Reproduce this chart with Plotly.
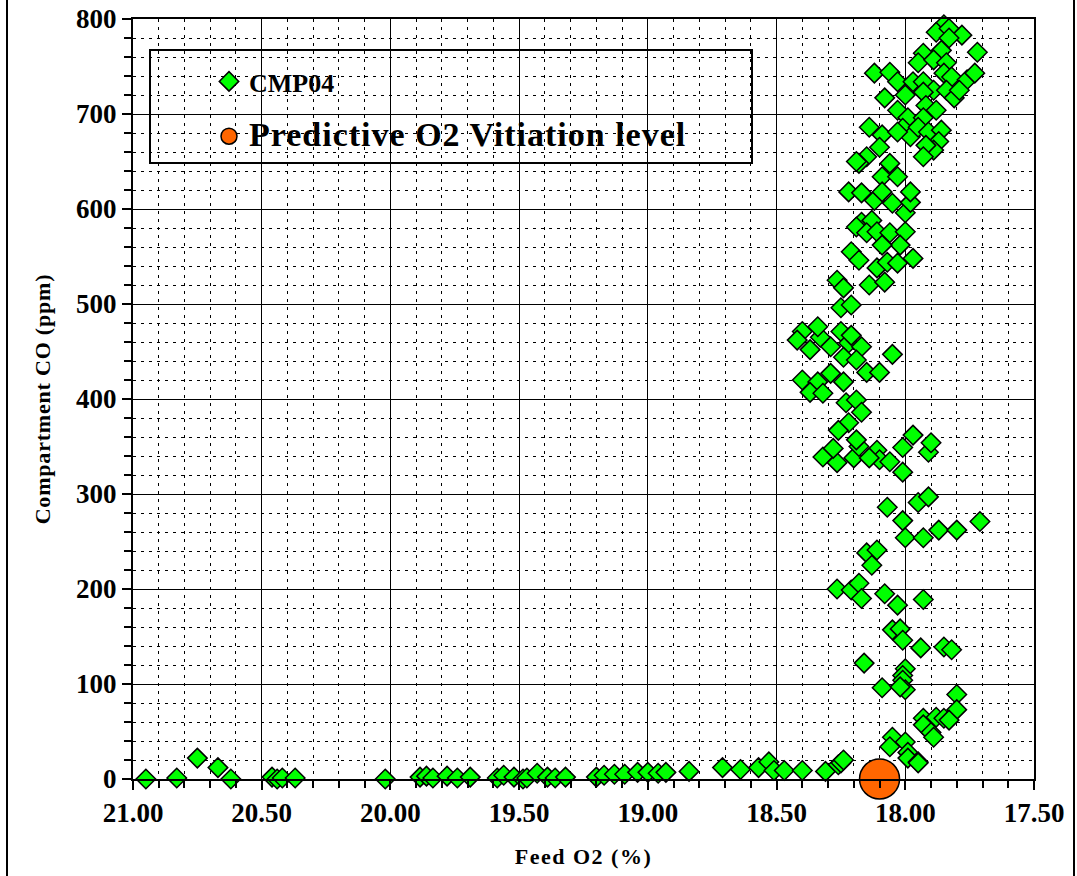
import plotly.graph_objects as go

# ---- data ----
feed_o2 = [
    20.95, 20.83, 20.75, 20.67, 20.62, 20.46, 20.44, 20.42, 20.37, 20.02,
    19.885, 19.86, 19.835, 19.78, 19.74, 19.69, 19.585, 19.56, 19.52, 19.485,
    19.47, 19.43, 19.39, 19.36, 19.32, 19.20, 19.17, 19.13, 19.09, 19.04,
    19.00, 18.96, 18.93, 18.84, 18.71, 18.64, 18.57, 18.53, 18.51, 18.47,
    18.40, 18.31, 18.26, 18.25, 18.24,
    # 0-210 ppm group
    18.265, 18.21, 18.18, 18.17, 18.08, 18.03, 17.93, 18.05, 18.02, 18.01,
    17.94, 17.85, 17.82, 18.16, 18.00, 18.01, 18.01, 18.09, 18.00, 18.02,
    17.80, 17.80, 17.93, 17.93, 17.88, 17.85, 17.90, 17.89, 17.83, 18.05,
    18.00, 18.06, 17.99, 17.99, 17.95, 17.95,
    # 210-400 ppm group
    18.23, 18.19, 18.17, 18.22, 18.26, 18.32, 18.265, 18.28, 18.20, 18.18,
    18.19, 18.11, 18.10, 18.06, 18.14, 18.01, 18.01, 17.97, 17.91, 17.90,
    18.07, 17.95, 17.91, 18.01, 18.00, 17.93, 17.87, 17.80, 17.71, 18.15,
    18.11, 18.13,
    # 400-600 ppm group
    18.17, 18.13, 18.19, 18.15, 18.11, 18.06, 18.00, 18.02, 18.09, 18.21,
    18.18, 18.11, 18.07, 18.03, 17.97, 18.14, 18.08, 18.265, 18.24, 18.25,
    18.21, 18.40, 18.42, 18.33, 18.37, 18.34, 18.29, 18.25, 18.22, 18.21,
    18.17, 18.24, 18.19, 18.05, 18.40, 18.34, 18.29, 18.24, 18.15, 18.10,
    18.37, 18.32, 18.00,
    # 600-800 ppm group
    17.85, 17.88, 17.83, 17.78, 17.83, 17.86, 17.93, 17.72, 17.95, 17.89,
    17.84, 17.85, 17.82, 17.76, 17.73, 18.12, 18.06, 18.03, 17.97, 17.93,
    17.89, 18.08, 18.00, 17.93, 17.84, 17.81, 17.79, 18.03, 17.99, 17.92,
    17.88, 17.93, 18.01, 17.98, 17.95, 17.91, 17.86, 17.87, 17.89, 17.92,
    17.93, 18.14, 18.09, 18.03, 18.10, 18.15, 18.18, 18.19, 18.06, 18.09,
    18.03, 18.22, 18.17, 18.12, 18.09, 18.05, 17.98, 17.98,
]
compartment_co = [
    0, 1, 22, 12, 0, 2, 0, 1, 1, 0,
    2, 3, 1, 3, 1, 2, 1, 4, 2, 0,
    1, 6, 2, 1, 2, 2, 4, 5, 5, 7,
    7, 6, 7, 8, 12, 10, 12, 18, 9, 9,
    9, 8, 15, 17, 20,
    200, 199, 206, 190, 195, 183, 189, 157, 158, 146,
    138, 139, 136, 122, 116, 109, 104, 96, 94, 97,
    89, 73, 64, 57, 65, 64, 49, 44, 62, 44,
    39, 34, 28, 22, 18, 17,
    396, 399, 386, 375, 367, 339, 333, 348, 338, 350,
    357, 346, 336, 334, 338, 323, 349, 362, 344, 354,
    286, 291, 297, 272, 254, 254, 262, 262, 271, 238,
    241, 225,
    586, 588, 581, 575, 576, 575, 576, 562, 562, 555,
    546, 538, 544, 543, 548, 520, 523, 525, 517, 496,
    499, 471, 462, 465, 452, 476, 455, 471, 459, 467,
    455, 444, 441, 447, 420, 418, 427, 418, 428, 428,
    407, 406, 596,
    794, 786, 790, 783, 780, 767, 764, 765, 754, 757,
    754, 743, 739, 736, 743, 743, 744, 734, 734, 734,
    725, 717, 720, 723, 725, 717, 725, 704, 696, 709,
    704, 696, 685, 676, 686, 681, 683, 671, 662, 667,
    655, 686, 678, 681, 665, 655, 648, 650, 648, 634,
    634, 618, 617, 609, 618, 606, 607, 618,
]
vitiation_o2 = [18.10]
vitiation_co = [0]

series_names = ["CMP04", "Predictive O2 Vitiation level"]
x_ticks = [21.0, 20.5, 20.0, 19.5, 19.0, 18.5, 18.0, 17.5]
y_ticks = [0, 100, 200, 300, 400, 500, 600, 700, 800]
x_title = "Feed O2 (%)"
y_title = "Compartment CO (ppm)"

FONT = "Liberation Serif, Times New Roman, serif"


def spaced(text, ls):
    return '<span style="letter-spacing:%spx">%s</span>' % (ls, text)


fig = go.Figure()
fig.add_trace(go.Scatter(
    x=feed_o2, y=compartment_co, mode="markers",
    name=series_names[0], legendgroup="a",
    marker=dict(symbol="diamond", size=15, color="#00FF00",
                line=dict(color="black", width=1.5)),
    cliponaxis=False,
))
fig.add_trace(go.Scatter(
    x=vitiation_o2, y=vitiation_co, mode="markers",
    name='<span style="font-size:34px;letter-spacing:1px">' + series_names[1] + "</span>",
    legendgroup="b",
    marker=dict(symbol="circle", size=40, color="#FF6600",
                line=dict(color="black", width=1.5)),
    cliponaxis=False,
))

W, H = 1077, 876
L, R, T, B = 133, 43, 19, 97
pw, ph = W - L - R, H - T - B


def px_x(p):
    return (p - L) / pw


def px_y(p):
    return (H - B - p) / ph


shapes = [
    # legend frame
    dict(type="rect", xref="paper", yref="paper",
         x0=px_x(150), x1=px_x(752), y0=px_y(163), y1=px_y(50),
         fillcolor="white", line=dict(color="black", width=2), layer="between"),
    # outer chart frame (left / right)
    dict(type="line", xref="paper", yref="paper",
         x0=px_x(7), x1=px_x(7), y0=px_y(880), y1=px_y(-5),
         line=dict(color="black", width=2)),
    dict(type="line", xref="paper", yref="paper",
         x0=px_x(1074), x1=px_x(1074), y0=px_y(880), y1=px_y(-5),
         line=dict(color="black", width=2)),
]

tick_font = dict(family=FONT, size=27, color="black", weight="bold")
title_font = dict(family=FONT, size=22, color="black", weight="bold")

axis_common = dict(
    showline=True, linecolor="black", linewidth=2, mirror=True,
    showgrid=True, gridcolor="black", gridwidth=1.3,
    ticks="outside", ticklen=9, tickwidth=2, tickcolor="black",
    zeroline=False, tickfont=tick_font, automargin=False,
)

fig.update_layout(
    width=W, height=H,
    margin=dict(l=L, r=R, t=T, b=B, autoexpand=False),
    paper_bgcolor="white", plot_bgcolor="white",
    font=dict(family=FONT, color="black"),
    shapes=shapes,
    showlegend=True,
    legend=dict(
        x=px_x(209), y=px_y(58), xanchor="left", yanchor="top",
        bgcolor="rgba(0,0,0,0)", borderwidth=0,
        font=dict(family=FONT, size=26, color="black", weight="bold"),
        itemsizing="trace", traceorder="grouped", tracegroupgap=18,
    ),
    xaxis=dict(
        axis_common,
        range=[21.0, 17.5], autorange=False,
        tickvals=x_ticks, ticktext=["%.2f" % v for v in x_ticks],
        minor=dict(dtick=0.1, tick0=17.5, showgrid=True, gridcolor="black",
                   gridwidth=1.3, griddash="3px,5px", ticks="outside",
                   ticklen=7, tickwidth=1.5, tickcolor="black"),
        title=dict(text=spaced(x_title, 1.5), standoff=21, font=title_font),
    ),
    yaxis=dict(
        axis_common,
        range=[0, 800], autorange=False,
        tickvals=y_ticks, ticktext=[str(v) for v in y_ticks],
        minor=dict(dtick=20, tick0=0, showgrid=True, gridcolor="black",
                   gridwidth=1.3, griddash="3px,5px", ticks="outside",
                   ticklen=7, tickwidth=1.5, tickcolor="black"),
        title=dict(text=spaced(y_title, 0.8), standoff=19, font=title_font),
    ),
)

fig.write_html("out.html")
